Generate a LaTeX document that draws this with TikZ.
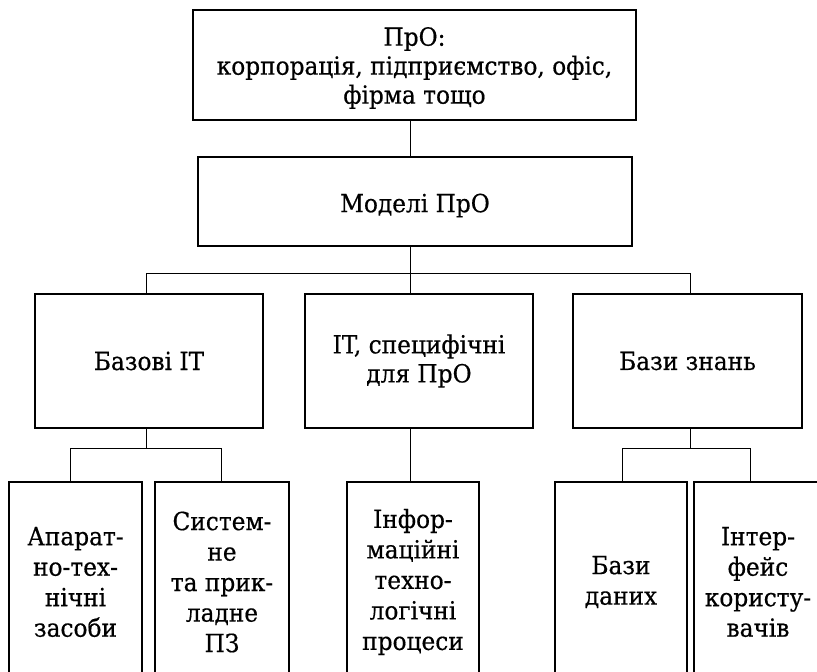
\documentclass[tikz,border=0pt]{standalone}
\usepackage{fontspec}
\setmainfont[FakeStretch=0.93,FakeBold=0.5]{DejaVu Serif}
\begin{document}
\begin{tikzpicture}[x=1pt,y=-1pt,
  frame/.style={draw, line width=1.5pt, inner sep=0pt},
  txt/.style={inner sep=0pt, align=center, font=\fontsize{25}{29}\selectfont},
  tall/.style={txt, font=\fontsize{25}{30.5}\selectfont},
  link/.style={line width=0.8pt}]
\useasboundingbox (0,0) rectangle (817,672);

% upper levels
\node[frame, minimum width=443pt, minimum height=110pt] (top) at (414.5,65) {};
\node[txt] (toptext) at ([yshift=-3pt]top.center)
  {ПрО:\\корпорація, підприємство, офіс,\\фірма тощо};
\node[frame, minimum width=434pt, minimum height=89pt] (model) at (415,201.5) {};
\node[txt] (modeltext) at ([yshift=-4pt]model.center) {Моделі ПрО};

% middle level
\node[frame, minimum width=228pt, minimum height=134pt] (base) at (149,361) {};
\node[txt] (basetext) at (base.center) {Базові IT};
\node[frame, minimum width=228pt, minimum height=134pt] (spec) at (419,361) {};
\node[txt] (spectext) at (spec.center) {IT, специфічні\\для ПрО};
\node[frame, minimum width=229pt, minimum height=134pt] (kb) at (687.5,361) {};
\node[txt] (kbtext) at (kb.center) {Бази знань};

% lower level (runs past the lower edge)
\node[frame, minimum width=133pt, minimum height=196pt] (b1) at (75.5,580) {};
\node[tall] (b1text) at ([yshift=-2pt]b1.center) {Апарат-\\но-тех-\\нічні\\засоби};
\node[frame, minimum width=134pt, minimum height=196pt] (b2) at (222,580) {};
\node[tall] (b2text) at ([yshift=-2pt]b2.center) {Систем-\\не\\та прик-\\ладне\\ПЗ};
\node[frame, minimum width=132pt, minimum height=196pt] (b3) at (413,580) {};
\node[tall] (b3text) at ([yshift=-2pt]b3.center) {Інфор-\\маційні\\техно-\\логічні\\процеси};
\node[frame, minimum width=132pt, minimum height=196pt] (b4) at (621,580) {};
\node[tall] (b4text) at ([yshift=-2pt]b4.center) {Бази\\даних};
\node[frame, minimum width=128pt, minimum height=196pt] (b5) at (758,580) {};
\node[tall] (b5text) at ([yshift=-2pt]b5.center) {Інтер-\\фейс\\користу-\\вачів};

% connector points
\coordinate (trunk) at (410,273);
\coordinate (leftdrop) at (146,273);
\coordinate (rightdrop) at (690,273);
\coordinate (lsplit) at (146,448);
\coordinate (rsplit) at (690,448);
\coordinate (d1) at (70,448);
\coordinate (d2) at (221,448);
\coordinate (d4) at (622,448);
\coordinate (d5) at (750,448);

% connectors
\draw[link] (top.south -| trunk) -- (model.north -| trunk);
\draw[link] (model.south -| trunk) -- (spec.north -| trunk);
\draw[link] (base.north -| leftdrop) -- (leftdrop) -- (rightdrop) -- (kb.north -| rightdrop);
\draw[link] (base.south -| lsplit) -- (lsplit);
\draw[link] (b1.north -| d1) -- (d1) -- (d2) -- (b2.north -| d2);
\draw[link] (spec.south -| trunk) -- (b3.north -| trunk);
\draw[link] (kb.south -| rsplit) -- (rsplit);
\draw[link] (b4.north -| d4) -- (d4) -- (d5) -- (b5.north -| d5);
\end{tikzpicture}
\end{document}
